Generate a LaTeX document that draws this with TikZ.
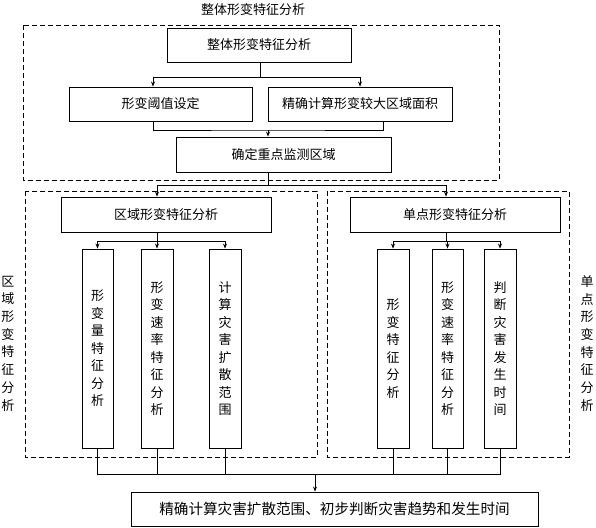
\documentclass[tikz,border=0pt]{standalone}
\usepackage{fontspec}
\newfontfamily\cjk{Noto Sans CJK SC}
\usetikzlibrary{arrows.meta}

\begin{document}
\begin{tikzpicture}[x=1pt, y=-1pt,
    box/.style={draw, line width=0.9pt, inner sep=0pt, font={\cjk\fontsize{13}{17.5}\selectfont}},
    tallbox/.style={box, minimum height=199pt, align=center},
    arr/.style={-{Stealth[length=5pt, width=4pt]}, line width=0.7pt},
    link/.style={line width=0.7pt},
    group/.style={dashed, dash pattern=on 5pt off 3pt, line width=0.7pt},
    sidelabel/.style={align=center, inner sep=0pt, font={\cjk\fontsize{13}{17.7}\selectfont}}]
    \useasboundingbox (0,0) rectangle (596,527);

    % Dashed groups
    \draw[group] (23,25) rectangle (499,180);
    \draw[group] (25,191) rectangle (317,457);
    \draw[group] (327,191) rectangle (569,457);
    \node[sidelabel] (ttl) at (253,10) {整体形变特征分析};
    \node[sidelabel] (lregion) at (8,343.5) {区\\域\\形\\变\\特\\征\\分\\析};
    \node[sidelabel] (lpoint) at (587,343.5) {单\\点\\形\\变\\特\\征\\分\\析};

    % Overall analysis
    \node[box, minimum width=184pt, minimum height=34pt] (whole) at (259,45) {整体形变特征分析};
    \node[box, minimum width=183pt, minimum height=34pt] (thres) at (160.5,104) {形变阈值设定};
    \node[box, minimum width=184pt, minimum height=34pt] (area) at (360,104) {精确计算形变较大区域面积};
    \node[box, minimum width=215pt, minimum height=35pt] (key) at (283.5,154.5) {确定重点监测区域};

    % Region and single point analysis
    \node[box, minimum width=210pt, minimum height=35pt] (region) at (166,214.5) {区域形变特征分析};
    \node[box, minimum width=210pt, minimum height=35pt] (point) at (455,214.5) {单点形变特征分析};

    \node[tallbox, minimum width=31pt] (ramount) at (97.5,348.5) {形\\变\\量\\特\\征\\分\\析};
    \node[tallbox, minimum width=32pt] (rrate) at (157,348.5) {形\\变\\速\\率\\特\\征\\分\\析};
    \node[tallbox, minimum width=32pt] (rspread) at (225,348.5) {计\\算\\灾\\害\\扩\\散\\范\\围};
    \node[tallbox, minimum width=32pt] (pfeat) at (393,348.5) {形\\变\\特\\征\\分\\析};
    \node[tallbox, minimum width=31pt] (prate) at (447.5,348.5) {形\\变\\速\\率\\特\\征\\分\\析};
    \node[tallbox, minimum width=32pt] (ptime) at (500,348.5) {判\\断\\灾\\害\\发\\生\\时\\间};

    % Result
    \node[box, minimum width=407pt, minimum height=34pt, font={\cjk\fontsize{14.6}{17}\selectfont}] (result) at (334.5,509) {精确计算灾害扩散范围、初步判断灾害趋势和发生时间};

    % Junctions
    \coordinate (j1) at (260,77);
    \coordinate (j2) at (268,130);
    \coordinate (j3) at (268,185);
    \coordinate (j4) at (157,241);
    \coordinate (j5) at (446,241);
    \coordinate (j6) at (315,474);

    % Connectors
    \draw[link] (j1 |- whole.south) -- (j1);
    \draw[arr] (j1) -| ([xshift=-7.5pt]thres.north);
    \draw[arr] (j1) -| (area.north);

    \draw[link] ([xshift=-7.5pt]thres.south) |- (j2) -| ([xshift=23pt]area.south);
    \draw[arr] (j2) -- (j2 |- key.north);

    \draw[link] (j3 |- key.south) -- (j3);
    \draw[arr] (j3) -| ([xshift=-9pt]region.north);
    \draw[arr] (j3) -| ([xshift=-9pt]point.north);

    \draw[link] (j4 |- region.south) -- (j4);
    \draw[arr] (j4) -| (ramount.north);
    \draw[arr] (j4) -- (rrate.north);
    \draw[arr] (j4) -| (rspread.north);

    \draw[link] (j5 |- point.south) -- (j5);
    \draw[arr] (j5) -| (pfeat.north);
    \draw[arr] (j5) -| (prate.north);
    \draw[arr] (j5) -| (ptime.north);

    \foreach \n in {ramount, rrate, rspread, pfeat, prate, ptime}
        \draw[link] (\n.south) |- (j6);
    \draw[arr] (j6) -- (j6 |- result.north);

\end{tikzpicture}
\end{document}
